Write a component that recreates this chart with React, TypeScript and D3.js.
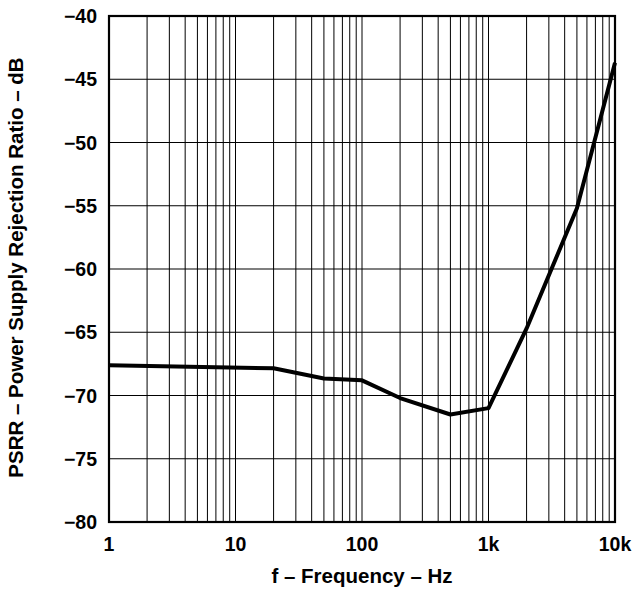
import { useRef, useEffect } from "react";
import * as d3 from "d3";

const freqs = [1, 20, 50, 100, 200, 500, 1000, 2000, 5000, 10000];
const psrr = [-67.6, -67.85, -68.65, -68.8, -70.2, -71.5, -71.0, -64.7, -55.2, -43.7];
const yTicks = [-40, -45, -50, -55, -60, -65, -70, -75, -80];
const xTicks = [1, 10, 100, 1000, 10000];
const xTickLabels = ["1", "10", "100", "1k", "10k"];

export default function App() {
  const svgRef = useRef<SVGSVGElement>(null);

  const width = 632;
  const height = 589;
  const margin = { top: 16, right: 17, bottom: 67, left: 109 };

  useEffect(() => {
    if (!svgRef.current) return;
    const svg = d3.select(svgRef.current);
    svg.selectAll("*").remove();

    const x = d3.scaleLog().domain([1, 10000]).range([margin.left, width - margin.right]);
    const y = d3.scaleLinear().domain([-80, -40]).range([height - margin.bottom, margin.top]);

    const font = "'Liberation Sans', Arial, sans-serif";

    // minor + major vertical grid
    const minor: number[] = [];
    for (let dec = 1; dec < 10000; dec *= 10) {
      for (let m = 1; m <= 9; m++) minor.push(dec * m);
    }
    svg
      .append("g")
      .selectAll("line")
      .data(minor.filter((d) => d > 1))
      .join("line")
      .attr("x1", (d) => x(d))
      .attr("x2", (d) => x(d))
      .attr("y1", y(-40))
      .attr("y2", y(-80))
      .attr("stroke", "#000")
      .attr("stroke-width", 1);

    // horizontal grid
    svg
      .append("g")
      .selectAll("line")
      .data(yTicks)
      .join("line")
      .attr("x1", x(1))
      .attr("x2", x(10000))
      .attr("y1", (d) => y(d))
      .attr("y2", (d) => y(d))
      .attr("stroke", "#000")
      .attr("stroke-width", 1.2);

    // frame
    svg
      .append("rect")
      .attr("x", x(1))
      .attr("y", y(-40))
      .attr("width", x(10000) - x(1))
      .attr("height", y(-80) - y(-40))
      .attr("fill", "none")
      .attr("stroke", "#000")
      .attr("stroke-width", 2.2);

    // curve
    const line = d3
      .line<number>()
      .x((_, i) => x(freqs[i]))
      .y((d) => y(d));
    svg
      .append("path")
      .datum(psrr)
      .attr("d", line)
      .attr("fill", "none")
      .attr("stroke", "#000")
      .attr("stroke-width", 4)
      .attr("stroke-linejoin", "round");

    // y tick labels
    svg
      .append("g")
      .selectAll("text")
      .data(yTicks)
      .join("text")
      .attr("x", margin.left - 12)
      .attr("y", (d) => y(d) + 7)
      .attr("text-anchor", "end")
      .attr("font-family", font)
      .attr("font-weight", "bold")
      .attr("font-size", 19.5)
      .text((d) => `\u2212${Math.abs(d)}`);

    // x tick labels
    svg
      .append("g")
      .selectAll("text")
      .data(xTicks)
      .join("text")
      .attr("x", (d) => x(d))
      .attr("y", height - margin.bottom + 29)
      .attr("text-anchor", "middle")
      .attr("font-family", font)
      .attr("font-weight", "bold")
      .attr("font-size", 19.5)
      .text((_, i) => xTickLabels[i]);

    // axis titles
    svg
      .append("text")
      .attr("x", (x(1) + x(10000)) / 2)
      .attr("y", 583)
      .attr("text-anchor", "middle")
      .attr("font-family", font)
      .attr("font-weight", "bold")
      .attr("font-size", 20.5)
      .text("f \u2013 Frequency \u2013 Hz");

    svg
      .append("text")
      .attr("transform", `translate(23, 267.5) rotate(-90)`)
      .attr("text-anchor", "middle")
      .attr("font-family", font)
      .attr("font-weight", "bold")
      .attr("font-size", 20.5)
      .text("PSRR \u2013 Power Supply Rejection Ratio \u2013 dB");
  }, []);

  return (
    <svg
      ref={svgRef}
      width={width}
      height={height}
      style={{ position: "absolute", left: 0, top: 0, background: "#fff" }}
    />
  );
}
